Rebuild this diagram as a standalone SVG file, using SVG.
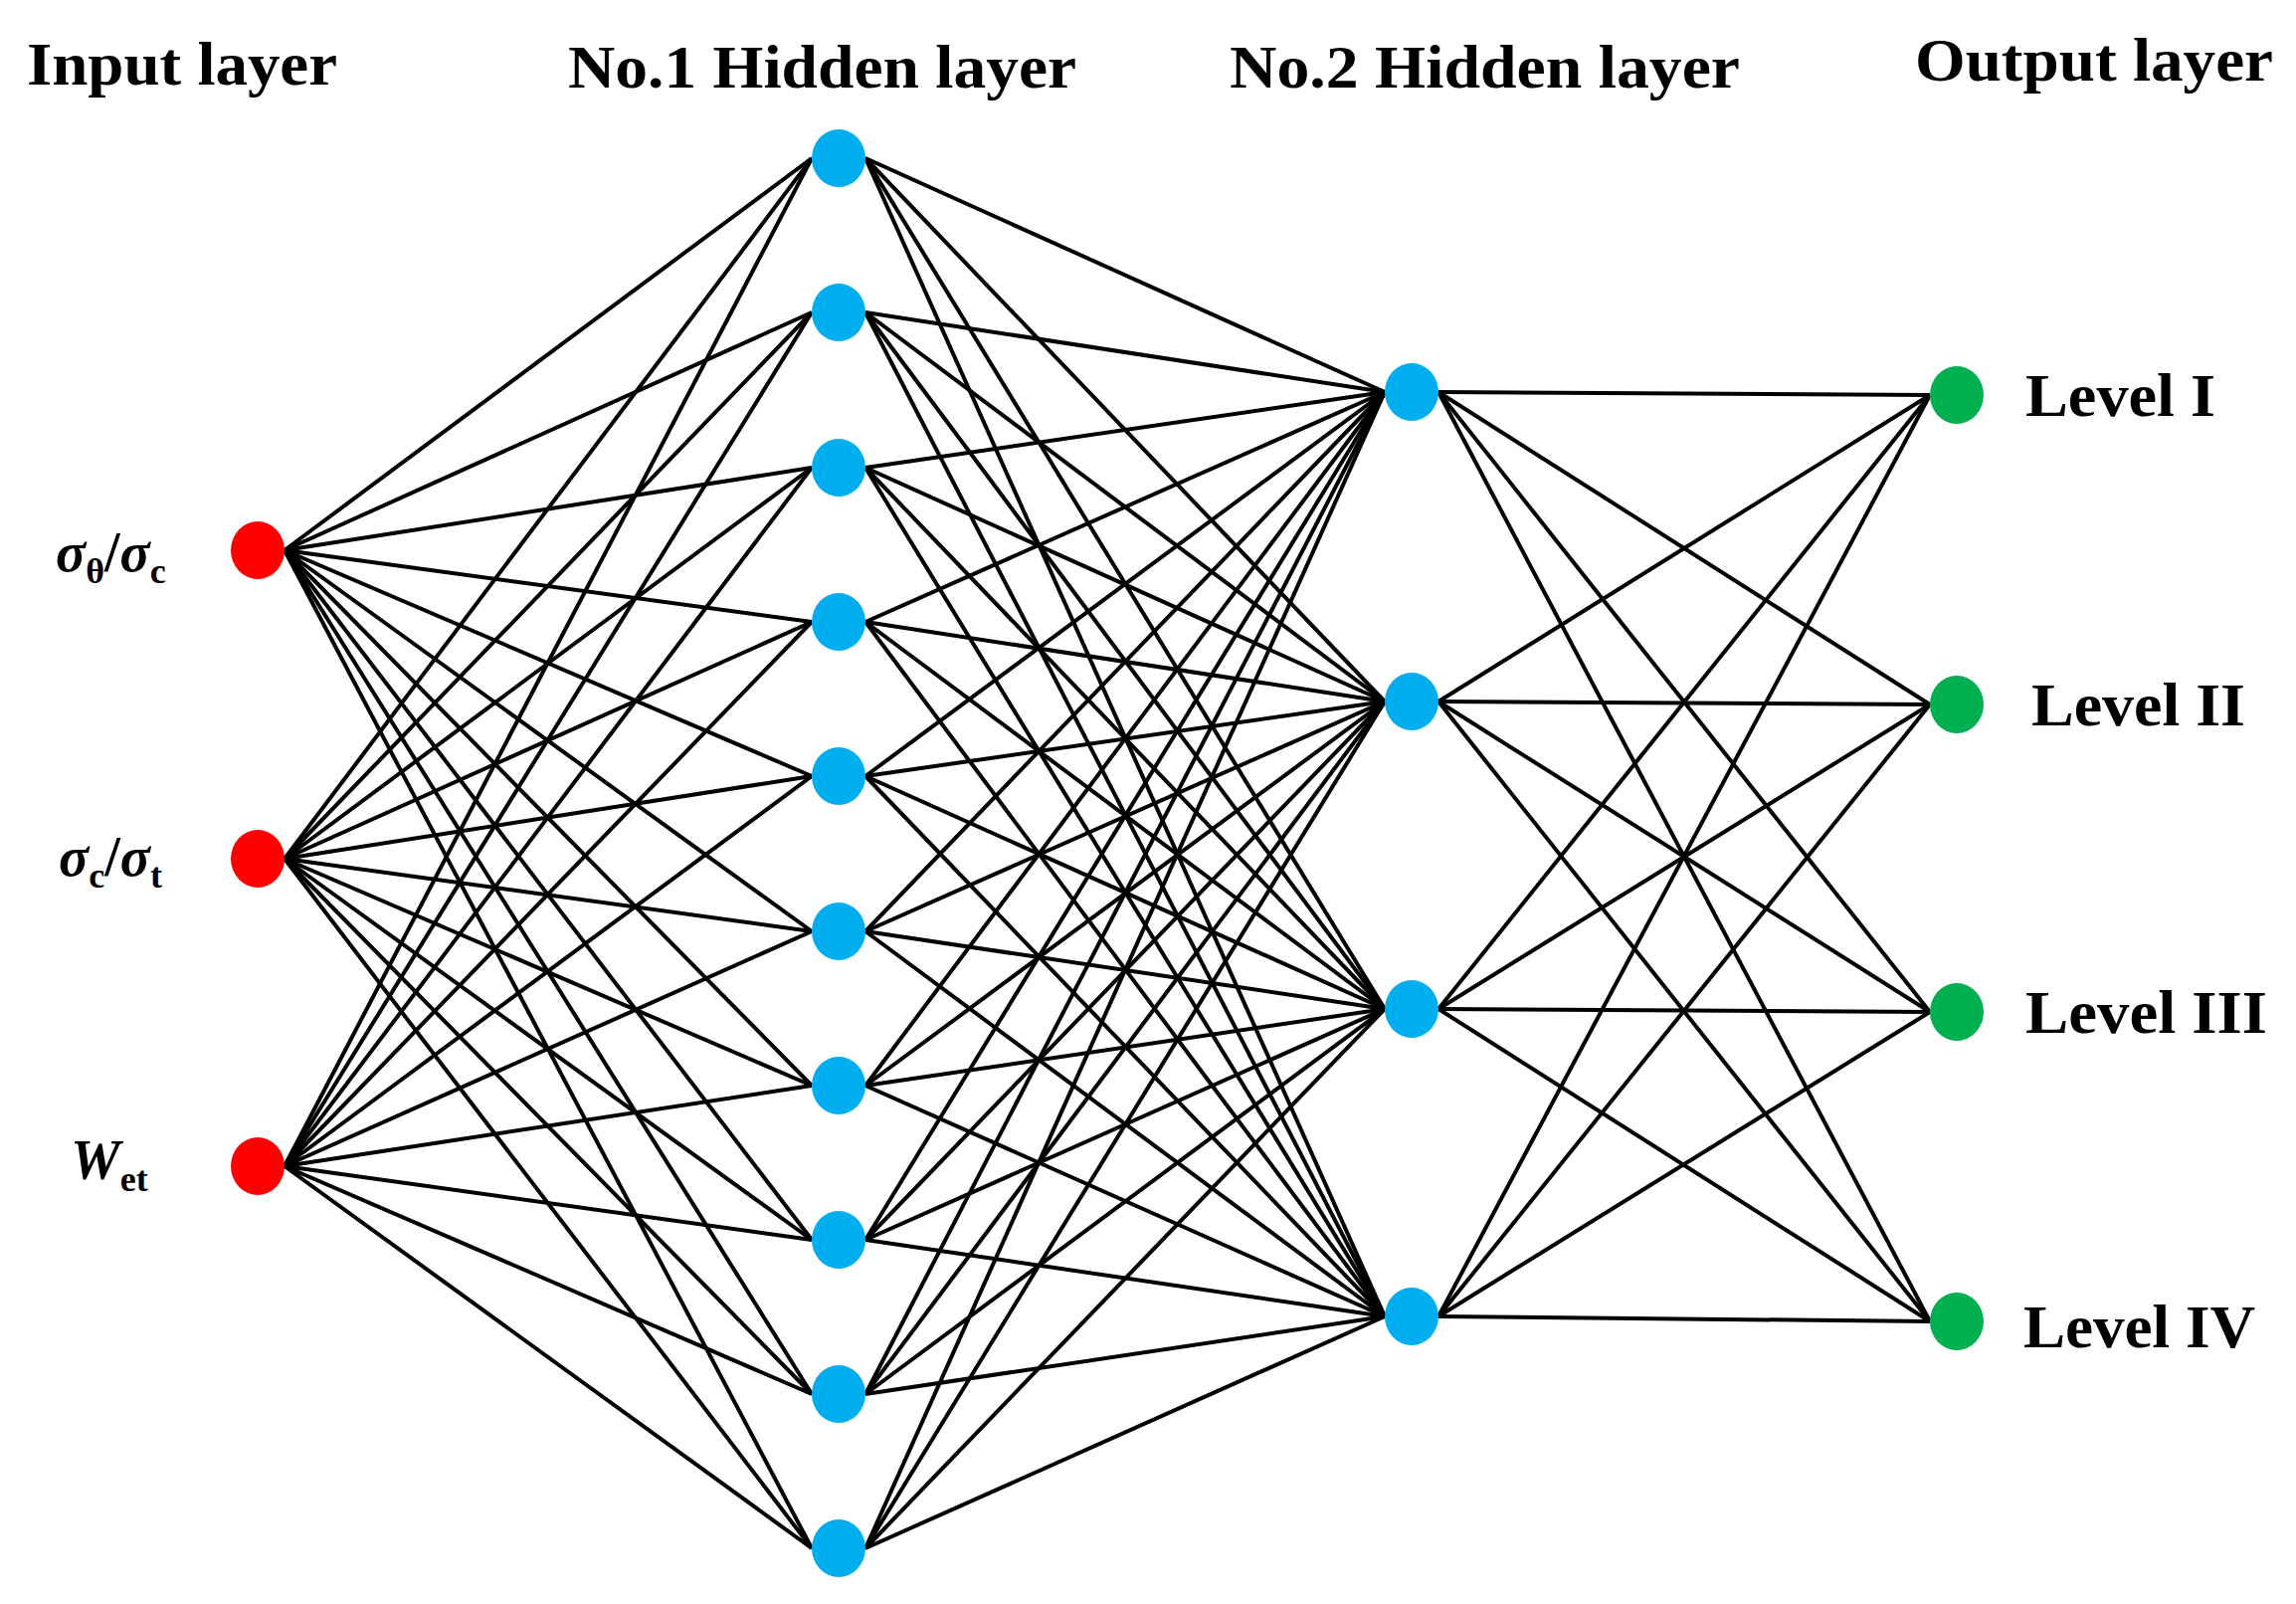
<svg xmlns="http://www.w3.org/2000/svg" width="2308" height="1612" viewBox="0 0 2308 1612">
<style>
.t{font-family:"Liberation Serif",serif;font-weight:bold;fill:#000}
.e line{stroke:#000;stroke-width:4}
.in{fill:#ff0000}.h{fill:#00aeef}.o{fill:#00b050}
</style>
<rect width="2308" height="1612" fill="#fff"/>
<g class="t" font-size="62">
<text x="27" y="85" textLength="312" lengthAdjust="spacingAndGlyphs">Input layer</text>
<text x="571" y="88" textLength="511" lengthAdjust="spacingAndGlyphs">No.1 Hidden layer</text>
<text x="1236" y="88" textLength="513" lengthAdjust="spacingAndGlyphs">No.2 Hidden layer</text>
<text x="1925" y="81" textLength="360" lengthAdjust="spacingAndGlyphs">Output layer</text>
</g>
<g id="connectors" class="e">
<line x1="286" y1="553" x2="816" y2="159"/><line x1="286" y1="553" x2="816" y2="314"/><line x1="286" y1="553" x2="816" y2="470"/><line x1="286" y1="553" x2="816" y2="625"/><line x1="286" y1="553" x2="816" y2="780"/><line x1="286" y1="553" x2="816" y2="936"/><line x1="286" y1="553" x2="816" y2="1091"/><line x1="286" y1="553" x2="816" y2="1246"/><line x1="286" y1="553" x2="816" y2="1401"/><line x1="286" y1="553" x2="816" y2="1556"/>
<line x1="286" y1="863" x2="816" y2="159"/><line x1="286" y1="863" x2="816" y2="314"/><line x1="286" y1="863" x2="816" y2="470"/><line x1="286" y1="863" x2="816" y2="625"/><line x1="286" y1="863" x2="816" y2="780"/><line x1="286" y1="863" x2="816" y2="936"/><line x1="286" y1="863" x2="816" y2="1091"/><line x1="286" y1="863" x2="816" y2="1246"/><line x1="286" y1="863" x2="816" y2="1401"/><line x1="286" y1="863" x2="816" y2="1556"/>
<line x1="286" y1="1172" x2="816" y2="159"/><line x1="286" y1="1172" x2="816" y2="314"/><line x1="286" y1="1172" x2="816" y2="470"/><line x1="286" y1="1172" x2="816" y2="625"/><line x1="286" y1="1172" x2="816" y2="780"/><line x1="286" y1="1172" x2="816" y2="936"/><line x1="286" y1="1172" x2="816" y2="1091"/><line x1="286" y1="1172" x2="816" y2="1246"/><line x1="286" y1="1172" x2="816" y2="1401"/><line x1="286" y1="1172" x2="816" y2="1556"/>
<line x1="870" y1="159" x2="1392" y2="394"/><line x1="870" y1="159" x2="1392" y2="705"/><line x1="870" y1="159" x2="1392" y2="1014"/><line x1="870" y1="159" x2="1392" y2="1323"/>
<line x1="870" y1="314" x2="1392" y2="394"/><line x1="870" y1="314" x2="1392" y2="705"/><line x1="870" y1="314" x2="1392" y2="1014"/><line x1="870" y1="314" x2="1392" y2="1323"/>
<line x1="870" y1="470" x2="1392" y2="394"/><line x1="870" y1="470" x2="1392" y2="705"/><line x1="870" y1="470" x2="1392" y2="1014"/><line x1="870" y1="470" x2="1392" y2="1323"/>
<line x1="870" y1="625" x2="1392" y2="394"/><line x1="870" y1="625" x2="1392" y2="705"/><line x1="870" y1="625" x2="1392" y2="1014"/><line x1="870" y1="625" x2="1392" y2="1323"/>
<line x1="870" y1="780" x2="1392" y2="394"/><line x1="870" y1="780" x2="1392" y2="705"/><line x1="870" y1="780" x2="1392" y2="1014"/><line x1="870" y1="780" x2="1392" y2="1323"/>
<line x1="870" y1="936" x2="1392" y2="394"/><line x1="870" y1="936" x2="1392" y2="705"/><line x1="870" y1="936" x2="1392" y2="1014"/><line x1="870" y1="936" x2="1392" y2="1323"/>
<line x1="870" y1="1091" x2="1392" y2="394"/><line x1="870" y1="1091" x2="1392" y2="705"/><line x1="870" y1="1091" x2="1392" y2="1014"/><line x1="870" y1="1091" x2="1392" y2="1323"/>
<line x1="870" y1="1246" x2="1392" y2="394"/><line x1="870" y1="1246" x2="1392" y2="705"/><line x1="870" y1="1246" x2="1392" y2="1014"/><line x1="870" y1="1246" x2="1392" y2="1323"/>
<line x1="870" y1="1401" x2="1392" y2="394"/><line x1="870" y1="1401" x2="1392" y2="705"/><line x1="870" y1="1401" x2="1392" y2="1014"/><line x1="870" y1="1401" x2="1392" y2="1323"/>
<line x1="870" y1="1556" x2="1392" y2="394"/><line x1="870" y1="1556" x2="1392" y2="705"/><line x1="870" y1="1556" x2="1392" y2="1014"/><line x1="870" y1="1556" x2="1392" y2="1323"/>
<line x1="1446" y1="394" x2="1940" y2="397"/><line x1="1446" y1="394" x2="1940" y2="708"/><line x1="1446" y1="394" x2="1940" y2="1017"/><line x1="1446" y1="394" x2="1940" y2="1328"/>
<line x1="1446" y1="705" x2="1940" y2="397"/><line x1="1446" y1="705" x2="1940" y2="708"/><line x1="1446" y1="705" x2="1940" y2="1017"/><line x1="1446" y1="705" x2="1940" y2="1328"/>
<line x1="1446" y1="1014" x2="1940" y2="397"/><line x1="1446" y1="1014" x2="1940" y2="708"/><line x1="1446" y1="1014" x2="1940" y2="1017"/><line x1="1446" y1="1014" x2="1940" y2="1328"/>
<line x1="1446" y1="1323" x2="1940" y2="397"/><line x1="1446" y1="1323" x2="1940" y2="708"/><line x1="1446" y1="1323" x2="1940" y2="1017"/><line x1="1446" y1="1323" x2="1940" y2="1328"/>
</g>
<g id="in1"><ellipse class="in" cx="259" cy="553" rx="27" ry="29"/><text class="t" x="56" y="574" font-size="56"><tspan font-style="italic">σ</tspan><tspan font-size="36" dy="12">θ</tspan><tspan dy="-12">/</tspan><tspan font-style="italic">σ</tspan><tspan font-size="36" dy="12">c</tspan></text></g>
<g id="in2"><ellipse class="in" cx="259" cy="863" rx="27" ry="29"/><text class="t" x="59" y="880" font-size="56"><tspan font-style="italic">σ</tspan><tspan font-size="36" dy="12">c</tspan><tspan dy="-12">/</tspan><tspan font-style="italic">σ</tspan><tspan font-size="36" dy="12">t</tspan></text></g>
<g id="in3"><ellipse class="in" cx="259" cy="1172" rx="27" ry="29"/><text class="t" x="71" y="1185" font-size="56"><tspan font-style="italic">W</tspan><tspan font-size="36" dy="12">et</tspan></text></g>
<g id="h1">
<ellipse class="h" cx="843" cy="159" rx="27" ry="29"/><ellipse class="h" cx="843" cy="314" rx="27" ry="29"/><ellipse class="h" cx="843" cy="470" rx="27" ry="29"/><ellipse class="h" cx="843" cy="625" rx="27" ry="29"/><ellipse class="h" cx="843" cy="780" rx="27" ry="29"/><ellipse class="h" cx="843" cy="936" rx="27" ry="29"/><ellipse class="h" cx="843" cy="1091" rx="27" ry="29"/><ellipse class="h" cx="843" cy="1246" rx="27" ry="29"/><ellipse class="h" cx="843" cy="1401" rx="27" ry="29"/><ellipse class="h" cx="843" cy="1556" rx="27" ry="29"/>
</g>
<g id="h2">
<ellipse class="h" cx="1419" cy="394" rx="27" ry="29"/><ellipse class="h" cx="1419" cy="705" rx="27" ry="29"/><ellipse class="h" cx="1419" cy="1014" rx="27" ry="29"/><ellipse class="h" cx="1419" cy="1323" rx="27" ry="29"/>
</g>
<g id="out">
<ellipse class="o" cx="1967" cy="397" rx="27" ry="29"/><ellipse class="o" cx="1967" cy="708" rx="27" ry="29"/><ellipse class="o" cx="1967" cy="1017" rx="27" ry="29"/><ellipse class="o" cx="1967" cy="1328" rx="27" ry="29"/>
<g class="t" font-size="62">
<text x="2036" y="418" textLength="191" lengthAdjust="spacingAndGlyphs">Level I</text>
<text x="2042" y="729" textLength="215" lengthAdjust="spacingAndGlyphs">Level II</text>
<text x="2036" y="1038" textLength="243" lengthAdjust="spacingAndGlyphs">Level III</text>
<text x="2034" y="1354" textLength="233" lengthAdjust="spacingAndGlyphs">Level IV</text>
</g>
</g>
</svg>
